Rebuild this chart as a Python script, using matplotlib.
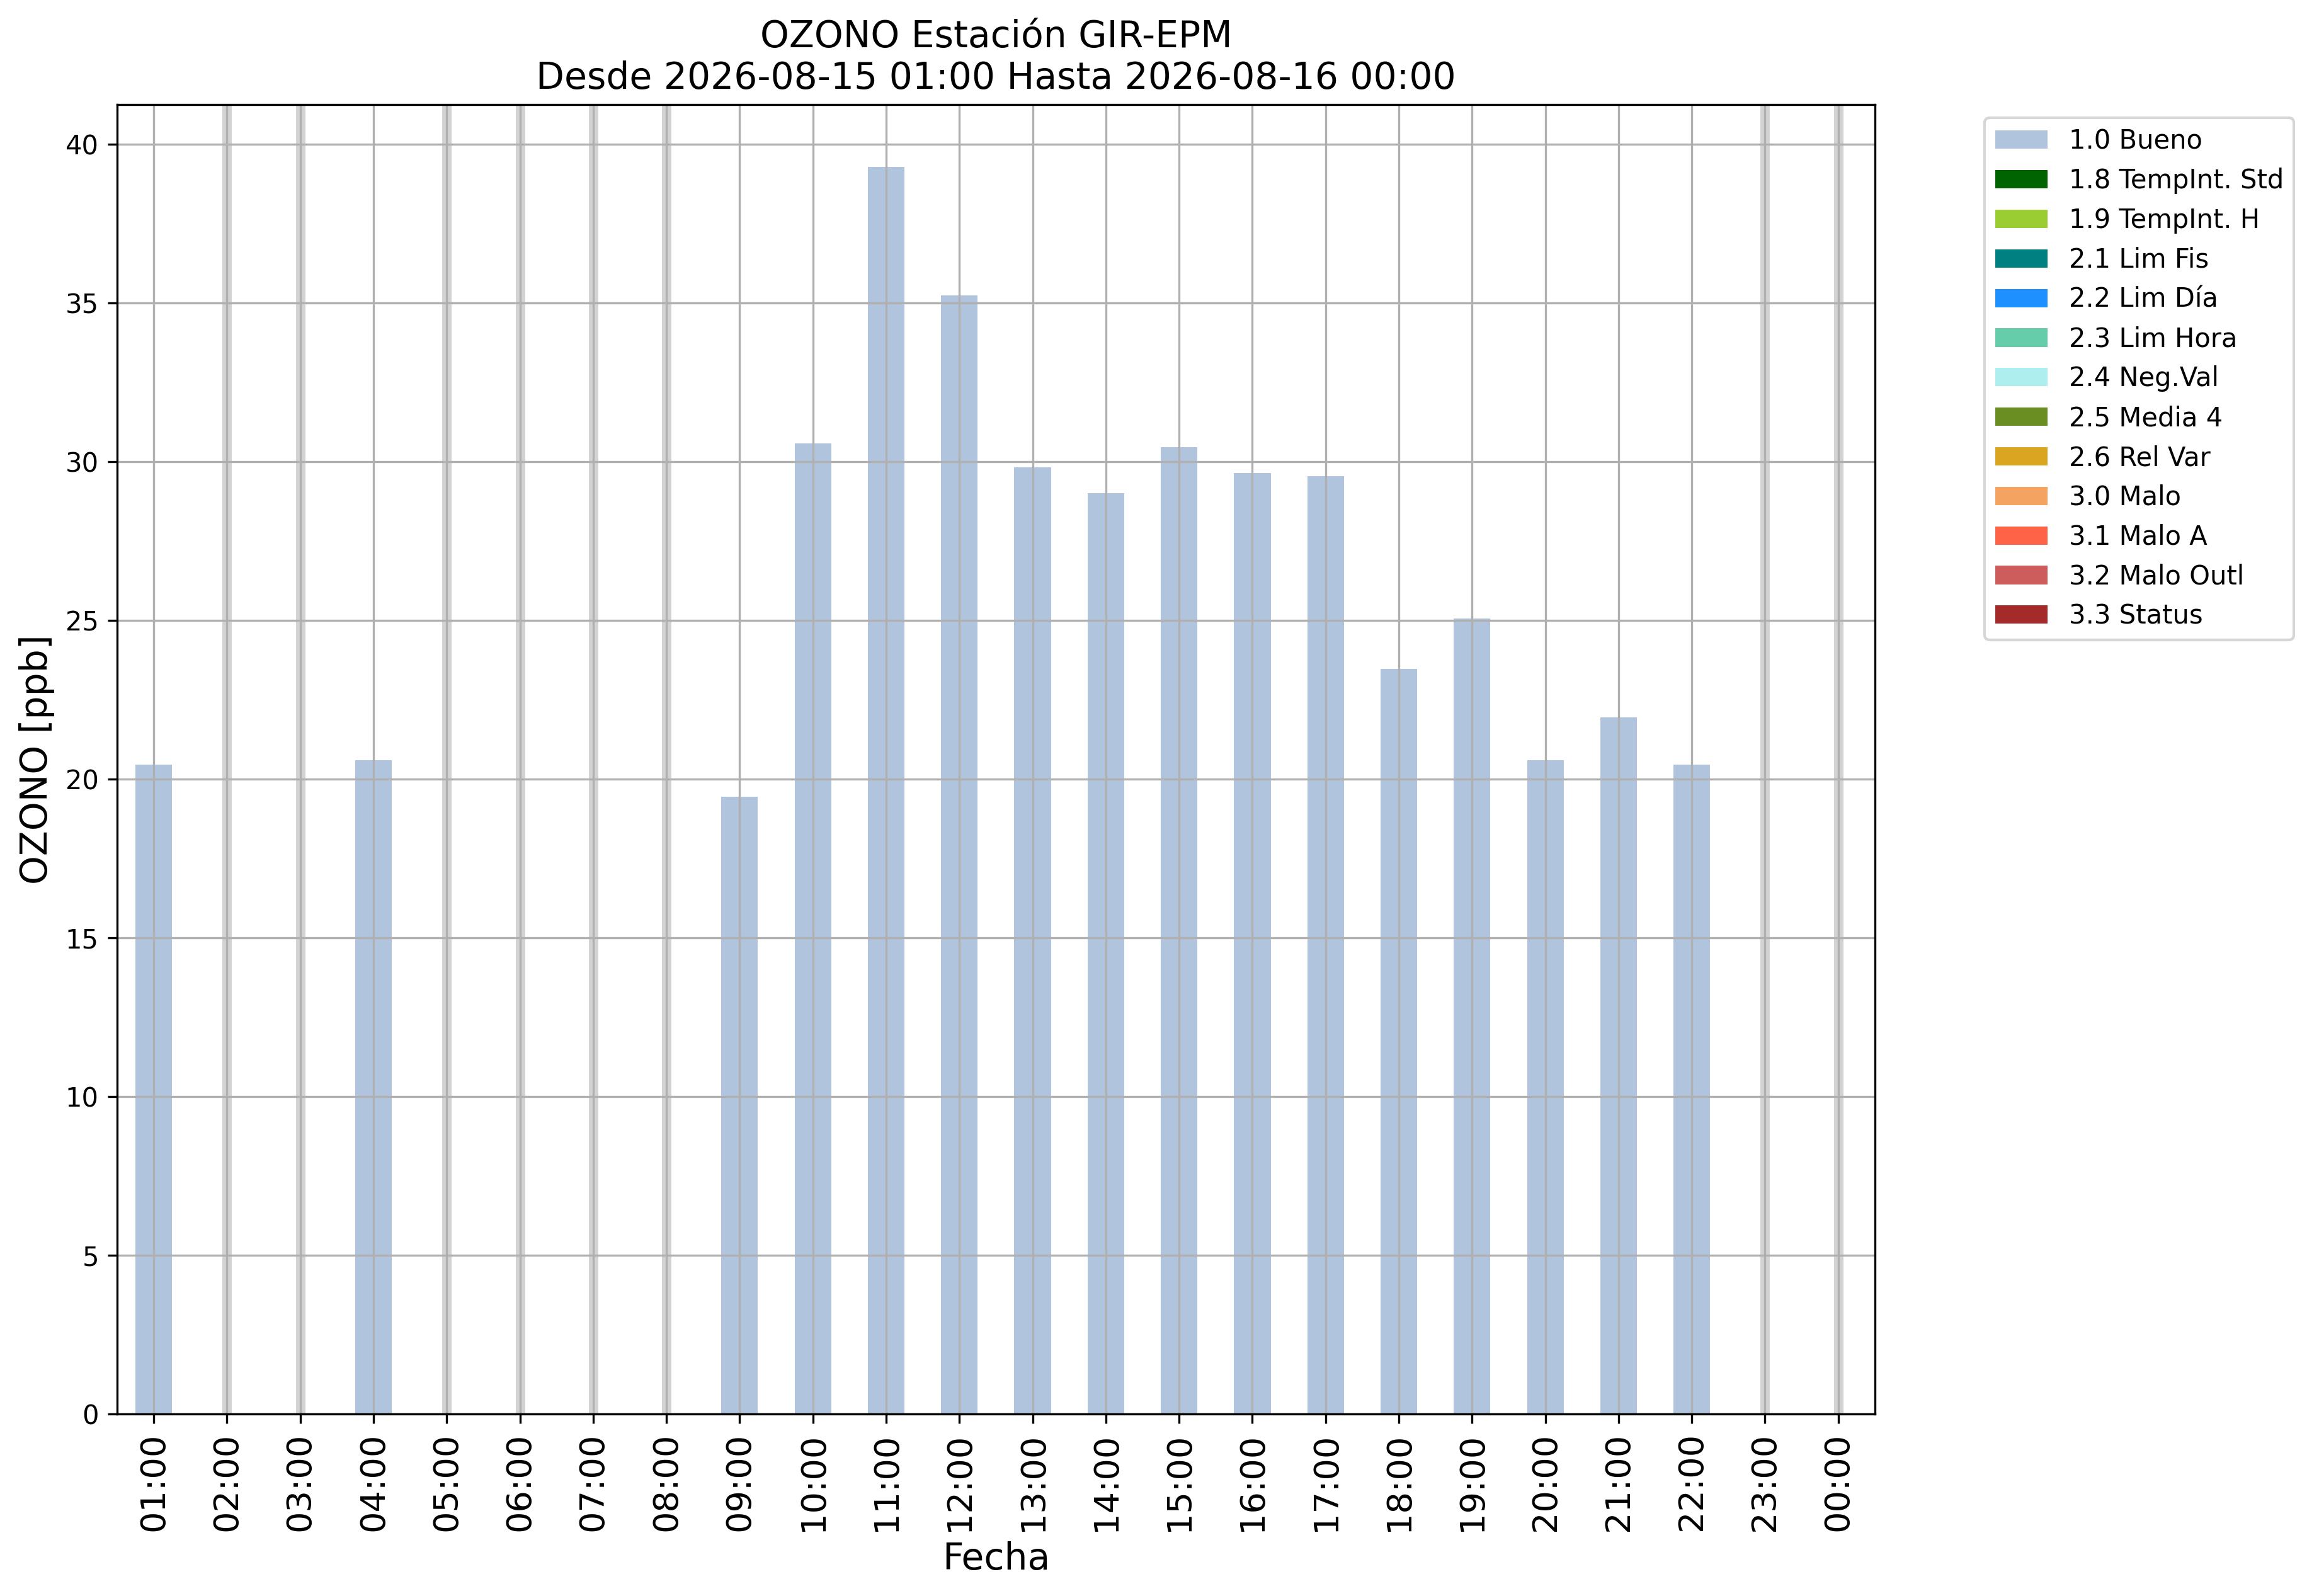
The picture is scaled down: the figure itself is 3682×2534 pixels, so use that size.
import numpy as np
import matplotlib
matplotlib.use("Agg")
import matplotlib.pyplot as plt
from matplotlib.patches import Patch

hours = ["01:00", "02:00", "03:00", "04:00", "05:00", "06:00", "07:00", "08:00",
         "09:00", "10:00", "11:00", "12:00", "13:00", "14:00", "15:00", "16:00",
         "17:00", "18:00", "19:00", "20:00", "21:00", "22:00", "23:00", "00:00"]
ozono = [20.45, None, None, 20.6, None, None, None, None,
         19.45, 30.58, 39.28, 35.23, 29.82, 29.0, 30.45, 29.63,
         29.53, 23.47, 25.05, 20.6, 21.95, 20.45, None, None]

flag_labels = ["1.0 Bueno", "1.8 TempInt. Std", "1.9 TempInt. H", "2.1 Lim Fis",
               "2.2 Lim Día", "2.3 Lim Hora", "2.4 Neg.Val", "2.5 Media 4",
               "2.6 Rel Var", "3.0 Malo", "3.1 Malo A", "3.2 Malo Outl", "3.3 Status"]
flag_colors = ["lightsteelblue", "darkgreen", "yellowgreen", "teal", "dodgerblue",
               "mediumaquamarine", "paleturquoise", "olivedrab", "goldenrod",
               "sandybrown", "tomato", "indianred", "brown"]

dpi = 300
fig = plt.figure(figsize=(3682 / dpi, 2534 / dpi), dpi=dpi)
ax = fig.add_axes([0.0505, 0.1140, 0.758, 0.8205])

x = np.arange(len(hours))
vals = np.array([np.nan if v is None else v for v in ozono], dtype=float)
valid = ~np.isnan(vals)

ax.bar(x[valid], vals[valid], width=0.5, color=flag_colors[0], zorder=1)
for xi in x[~valid]:
    ax.axvline(xi, color="lightgray", lw=3.6, zorder=1)

ax.set_xlim(-0.5, len(hours) - 0.5)
ax.set_xticks(x)
ax.set_xticklabels(hours, rotation=90, fontsize=13)
ax.tick_params(axis="y", labelsize=10)
ax.grid(True)

ax.set_xlabel("Fecha", fontsize=14)
ax.set_ylabel("OZONO [ppb]", fontsize=14)
ax.set_title("OZONO Estación GIR-EPM\nDesde 2026-08-15 01:00 Hasta 2026-08-16 00:00", fontsize=14)

handles = [Patch(facecolor=c, label=l) for c, l in zip(flag_colors, flag_labels)]
ax.legend(handles=handles, loc="upper left", bbox_to_anchor=(1.055, 1), fontsize=10)

fig.savefig("out.png", dpi=dpi)
